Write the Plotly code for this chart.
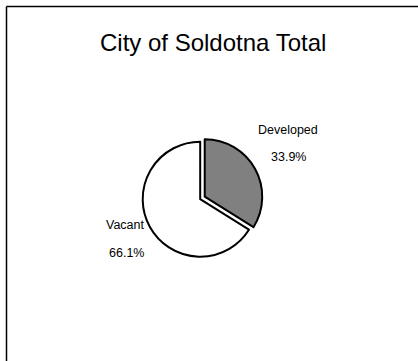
import plotly.graph_objects as go

# Land use share for the city total
categories = ["Developed", "Vacant"]
shares = [33.9, 66.1]
slice_colors = ["#808080", "#ffffff"]
title_text = "City of Soldotna Total"

W, H = 418, 361
pull = 0.09
radius = 57.5
cx, cy = 200.2, 199.2  # pie centre in pixels from top-left
half = radius * (1 + pull)

fig = go.Figure(
    go.Pie(
        labels=categories,
        values=shares,
        sort=False,
        direction="clockwise",
        rotation=0,
        pull=[pull, 0],
        marker=dict(colors=slice_colors, line=dict(color="black", width=2)),
        textinfo="none",
        hoverinfo="label+percent",
        showlegend=False,
        domain=dict(
            x=[(cx - half) / W, (cx + half) / W],
            y=[(H - cy - half) / H, (H - cy + half) / H],
        ),
    )
)

def px(x, y):
    return x / W, 1 - y / H

# label and percentage positions (pixels) for each slice
label_pos = {"Developed": ((288.4, 129.7), (288.3, 157.4)),
             "Vacant": ((125.3, 225.3), (126.0, 253.5))}

annotations = []
for name, val in zip(categories, shares):
    (lx, ly), (vx, vy) = label_pos[name]
    for txt, (x, y) in ((name, (lx, ly)), (f"{val:.1f}%", (vx, vy))):
        ax, ay = px(x, y)
        annotations.append(dict(
            x=ax, y=ay, xref="paper", yref="paper", text=txt, showarrow=False,
            xanchor="center", yanchor="middle",
            font=dict(family="Liberation Sans, Arial, sans-serif", size=12.5, color="black"),
        ))

tx, ty = px(213.4, 42.5)
annotations.append(dict(
    x=tx, y=ty, xref="paper", yref="paper", text=title_text, showarrow=False,
    xanchor="center", yanchor="middle",
    font=dict(family="Liberation Sans, Arial, sans-serif", size=24, color="black"),
))

# chart frame (left and top edges)
x0, y0 = px(6.5, 6.5)
shapes = [
    dict(type="line", xref="paper", yref="paper", x0=x0, x1=x0, y0=y0, y1=-0.05,
         line=dict(color="black", width=1.5)),
    dict(type="line", xref="paper", yref="paper", x0=x0, x1=1.05, y0=y0, y1=y0,
         line=dict(color="black", width=1.5)),
]

fig.update_layout(
    width=W, height=H,
    margin=dict(l=0, r=0, t=0, b=0),
    paper_bgcolor="white", plot_bgcolor="white",
    annotations=annotations, shapes=shapes,
)

fig.write_html("out.html")
